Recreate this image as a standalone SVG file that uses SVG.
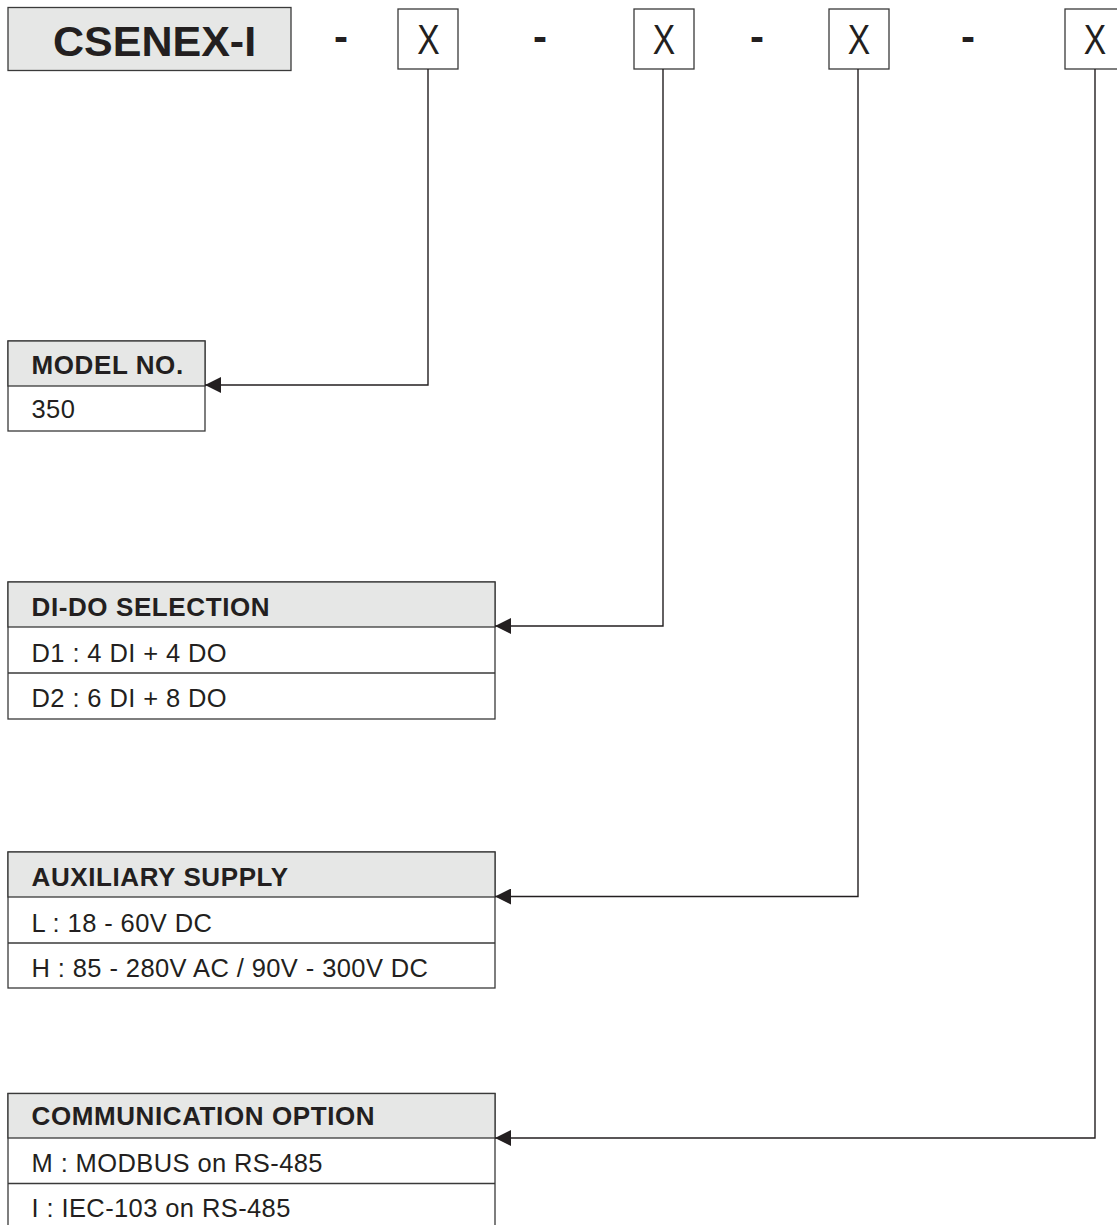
<svg xmlns="http://www.w3.org/2000/svg" width="1117" height="1225" viewBox="0 0 1117 1225">
<style>
  .hdr { fill: #e6e7e6; stroke: #3a3a3a; stroke-width: 1.3; }
  .box { fill: #ffffff; stroke: #3a3a3a; stroke-width: 1.3; }
  .sep { stroke: #3a3a3a; stroke-width: 1.3; }
  .conn { fill: none; stroke: #231f20; stroke-width: 1.4; }
  .t { font-family: "Liberation Sans", Arial, sans-serif; fill: #231f20; }
  .th { font-size: 26px; font-weight: bold; letter-spacing: 0.6px; }
  .tr { font-size: 25.5px; letter-spacing: 0.4px; }
  .big { font-size: 43px; font-weight: bold; }
  .x { font-size: 42px; }
  .dash { font-size: 42px; font-weight: bold; }
</style>
<defs>
  <marker id="arr" markerUnits="userSpaceOnUse" markerWidth="16" markerHeight="16" refX="16" refY="8" orient="auto">
    <path d="M0,0 L16,8 L0,16 Z" fill="#231f20"/>
  </marker>
</defs>

<g id="code">
  <rect class="hdr" x="8" y="7.5" width="283" height="63"/>
  <text class="t big" x="53" y="55.7">CSENEX-I</text>
</g>
<g id="dashes">
  <text class="t dash" x="341" y="51" text-anchor="middle">-</text>
  <text class="t dash" x="540" y="51" text-anchor="middle">-</text>
  <text class="t dash" x="757" y="51" text-anchor="middle">-</text>
  <text class="t dash" x="968" y="51" text-anchor="middle">-</text>
</g>
<g id="x1">
  <rect class="box" x="398" y="9" width="60" height="60"/>
  <text class="t x" transform="translate(428.5 54) scale(0.8 1)" text-anchor="middle">X</text>
</g>
<g id="x2">
  <rect class="box" x="634" y="9" width="60" height="60"/>
  <text class="t x" transform="translate(664 54) scale(0.8 1)" text-anchor="middle">X</text>
</g>
<g id="x3">
  <rect class="box" x="829" y="9" width="60" height="60"/>
  <text class="t x" transform="translate(859 54) scale(0.8 1)" text-anchor="middle">X</text>
</g>
<g id="x4">
  <rect class="box" x="1065" y="9" width="60" height="60"/>
  <text class="t x" transform="translate(1095 54) scale(0.8 1)" text-anchor="middle">X</text>
</g>

<g id="model">
  <rect class="box" x="8" y="341" width="197" height="90"/>
  <rect class="hdr" x="8" y="341" width="197" height="45"/>
  <text class="t th" x="31.5" y="374">MODEL NO.</text>
  <text class="t tr" x="31.5" y="417.5">350</text>
</g>

<g id="dido">
  <rect class="box" x="8" y="582" width="487" height="137"/>
  <rect class="hdr" x="8" y="582" width="487" height="45"/>
  <line class="sep" x1="8" y1="673" x2="495" y2="673"/>
  <text class="t th" x="31.5" y="615.5">DI-DO SELECTION</text>
  <text class="t tr" x="31.5" y="662">D1 : 4 DI + 4 DO</text>
  <text class="t tr" x="31.5" y="706.5">D2 : 6 DI + 8 DO</text>
</g>

<g id="aux">
  <rect class="box" x="8" y="852" width="487" height="136"/>
  <rect class="hdr" x="8" y="852" width="487" height="45"/>
  <line class="sep" x1="8" y1="943" x2="495" y2="943"/>
  <text class="t th" x="31.5" y="885.5">AUXILIARY SUPPLY</text>
  <text class="t tr" x="31.5" y="931.5">L : 18 - 60V DC</text>
  <text class="t tr" x="31.5" y="976.5">H : 85 - 280V AC / 90V - 300V DC</text>
</g>

<g id="comm">
  <rect class="box" x="8" y="1093.5" width="487" height="140"/>
  <rect class="hdr" x="8" y="1093.5" width="487" height="44.5"/>
  <line class="sep" x1="8" y1="1183.5" x2="495" y2="1183.5"/>
  <text class="t th" x="31.5" y="1125">COMMUNICATION OPTION</text>
  <text class="t tr" x="31.5" y="1172">M : MODBUS on RS-485</text>
  <text class="t tr" x="31.5" y="1217">I : IEC-103 on RS-485</text>
</g>

<g id="connectors">
  <polyline class="conn" points="428,69 428,385 205,385" marker-end="url(#arr)"/>
  <polyline class="conn" points="663,69 663,626 495,626" marker-end="url(#arr)"/>
  <polyline class="conn" points="858,69 858,896.5 495,896.5" marker-end="url(#arr)"/>
  <polyline class="conn" points="1095,69 1095,1138 495,1138" marker-end="url(#arr)"/>
</g>
</svg>
